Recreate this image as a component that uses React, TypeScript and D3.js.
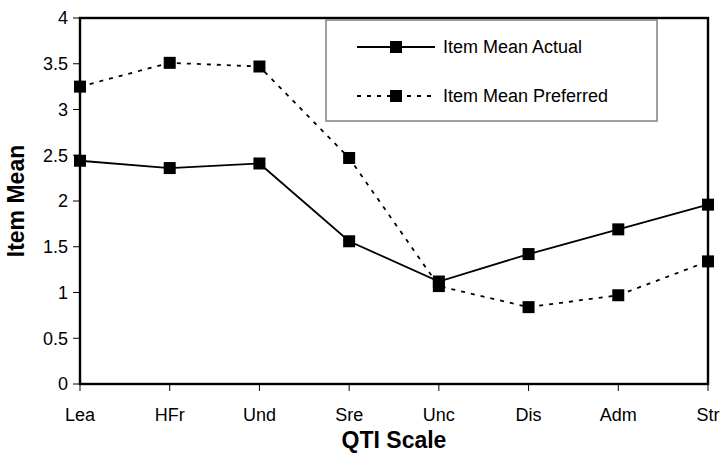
import React from "react";
import * as d3 from "d3";

const categories = ["Lea", "HFr", "Und", "Sre", "Unc", "Dis", "Adm", "Str"];
const actualMeans = [2.44, 2.36, 2.41, 1.56, 1.12, 1.42, 1.69, 1.96];
const preferredMeans = [3.25, 3.51, 3.47, 2.47, 1.07, 0.84, 0.97, 1.34];
const yTicks = [0, 0.5, 1, 1.5, 2, 2.5, 3, 3.5, 4];
const seriesNames = ["Item Mean Actual", "Item Mean Preferred"];

const W = 721;
const H = 466;
const plot = { left: 80, right: 708, top: 18, bottom: 384 };
const FONT = "'Liberation Sans', Arial, sans-serif";

export default function App() {
  const x = d3
    .scalePoint<string>()
    .domain(categories)
    .range([plot.left, plot.right]);
  const y = d3.scaleLinear().domain([0, 4]).range([plot.bottom, plot.top]);

  const line = d3
    .line<number>()
    .x((_, i) => x(categories[i]) as number)
    .y((d) => y(d));

  const series = [
    { name: seriesNames[0], values: actualMeans, dash: undefined as string | undefined },
    { name: seriesNames[1], values: preferredMeans, dash: "4,6" },
  ];

  const m = 12;

  return (
    <svg
      width={W}
      height={H}
      style={{ position: "absolute", left: 0, top: 0, background: "#fff" }}
      fontFamily={FONT}
    >
      {/* y ticks and labels */}
      {yTicks.map((t) => (
        <g key={t}>
          <line
            x1={plot.left - 7}
            x2={plot.left}
            y1={y(t)}
            y2={y(t)}
            stroke="#000"
            strokeWidth={1}
          />
          <text
            x={plot.left - 12}
            y={y(t)}
            dy="0.35em"
            textAnchor="end"
            fontSize={18}
            fill="#000"
          >
            {t}
          </text>
        </g>
      ))}

      {/* x ticks and labels */}
      {categories.map((c) => (
        <g key={c}>
          <line
            x1={x(c)}
            x2={x(c)}
            y1={plot.bottom}
            y2={plot.bottom + 7}
            stroke="#000"
            strokeWidth={1}
          />
          <text
            x={x(c)}
            y={plot.bottom + 37}
            textAnchor="middle"
            fontSize={18}
            fill="#000"
          >
            {c}
          </text>
        </g>
      ))}

      {/* plot frame */}
      <rect
        x={plot.left}
        y={plot.top}
        width={plot.right - plot.left}
        height={plot.bottom - plot.top}
        fill="none"
        stroke="#000"
        strokeWidth={2.4}
      />

      {/* series */}
      {series.map((s) => (
        <g key={s.name}>
          <path
            d={line(s.values) ?? ""}
            fill="none"
            stroke="#000"
            strokeWidth={1.8}
            strokeDasharray={s.dash}
          />
          {s.values.map((v, i) => (
            <rect
              key={i}
              x={(x(categories[i]) as number) - m / 2}
              y={y(v) - m / 2}
              width={m}
              height={m}
              fill="#000"
            />
          ))}
        </g>
      ))}

      {/* legend */}
      <rect
        x={326}
        y={20}
        width={331}
        height={101}
        fill="#fff"
        stroke="#808080"
        strokeWidth={1.5}
      />
      {series.map((s, i) => {
        const ly = 47 + i * 49;
        return (
          <g key={s.name}>
            <line
              x1={357}
              x2={435}
              y1={ly}
              y2={ly}
              stroke="#000"
              strokeWidth={1.8}
              strokeDasharray={s.dash}
            />
            <rect x={396 - m / 2} y={ly - m / 2} width={m} height={m} fill="#000" />
            <text x={443} y={ly} dy="0.35em" fontSize={18} fill="#000">
              {s.name}
            </text>
          </g>
        );
      })}

      {/* axis titles */}
      <text
        x={394}
        y={448}
        textAnchor="middle"
        fontSize={23}
        fontWeight="bold"
        fill="#000"
      >
        QTI Scale
      </text>
      <text
        transform={`translate(24, ${(plot.top + plot.bottom) / 2}) rotate(-90)`}
        textAnchor="middle"
        fontSize={23}
        fontWeight="bold"
        fill="#000"
      >
        Item Mean
      </text>
    </svg>
  );
}
